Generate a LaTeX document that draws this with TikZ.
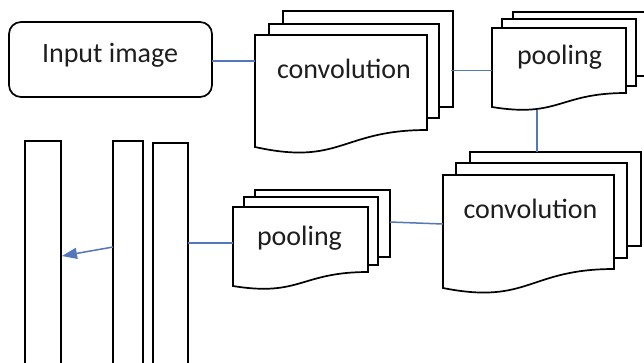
\documentclass[tikz,border=0pt]{standalone}
\usepackage{fontspec}
\setmainfont{Carlito}
\usetikzlibrary{arrows.meta}
\definecolor{conn}{RGB}{84,118,186}
\definecolor{txt}{RGB}{30,30,30}
\tikzset{
  pg/.style={draw=black, fill=white, line width=1.7pt, line join=miter},
  lbl/.style={inner sep=0pt, anchor=base, text=txt, font=\fontsize{28}{30}\selectfont},
  link/.style={draw=conn, line width=1.5pt},
  bar/.style={draw=black, fill=white, line width=1.7pt}
}
\newcommand\docpg[6]{%
  \filldraw[pg] (#1,#2) -- (#3,#2) -- (#3,#4)
    .. controls ({(#1+#3)/2},#4) and ({(#1+#3)/2},#4+#6) .. (#1,#5) -- cycle;}
\begin{document}
\begin{tikzpicture}[x=1pt,y=-1pt]
\useasboundingbox (0,0) rectangle (644,362);
\clip (0,0) rectangle (644,362);
\fill[white] (0,0) rectangle (644,362);

% input image
\draw[pg, rounded corners=12pt] (9,22) rectangle (212,97);
\node[lbl] (tin) at (110,62) {Input image};

% top convolution
\filldraw[pg] (283,11) rectangle (453,107);
\filldraw[pg] (269,24) rectangle (439,118);
\docpg{255}{35}{427}{130}{147}{36}
\node[lbl] (tc1) at (344,78) {convolution};

% top pooling
\filldraw[pg] (513,12) rectangle (660,76);
\filldraw[pg] (502,19) rectangle (636,86);
\docpg{492}{28}{626}{93}{107}{25}
\node[lbl] (tp1) at (559.5,64) {pooling};

% lower convolution
\filldraw[pg] (470,152) rectangle (641,246);
\filldraw[pg] (456,163) rectangle (627,258);
\docpg{443}{175}{614}{269}{288}{36}
\node[lbl] (tc2) at (530.5,218) {convolution};

% lower pooling
\filldraw[pg] (255,190) rectangle (390,257);
\filldraw[pg] (244,197) rectangle (378,265);
\docpg{233}{207}{368}{272}{286}{25}
\node[lbl] (tp2) at (299.5,245) {pooling};

% bars
\draw[bar] (25,141) rectangle (61,375);
\draw[bar] (113,141) rectangle (143,375);
\draw[bar] (153,143) rectangle (188,375);

% connector coordinates
\coordinate (inR) at (212,61);
\coordinate (c1L) at (255,61);
\coordinate (c1R) at (451,70.5);
\coordinate (p1L) at (492,70.5);
\coordinate (p1B) at (537,109.5);
\coordinate (c2T) at (537,152);
\coordinate (c2L) at (443,224);
\coordinate (p2R) at (390,222);
\coordinate (p2L) at (233,243);
\coordinate (b3R) at (188,243);
\coordinate (b2L) at (113,247);
\coordinate (b1R) at (62,256);

\draw[link] (inR) -- (c1L);
\draw[link] (c1R) -- (p1L);
\draw[link] (p1B) -- (c2T);
\draw[link] (c2L) -- (p2R);
\draw[link] (p2L) -- (b3R);
\draw[link, -{Triangle[length=15pt,width=11pt]}] (b2L) -- (b1R);
\end{tikzpicture}
\end{document}
